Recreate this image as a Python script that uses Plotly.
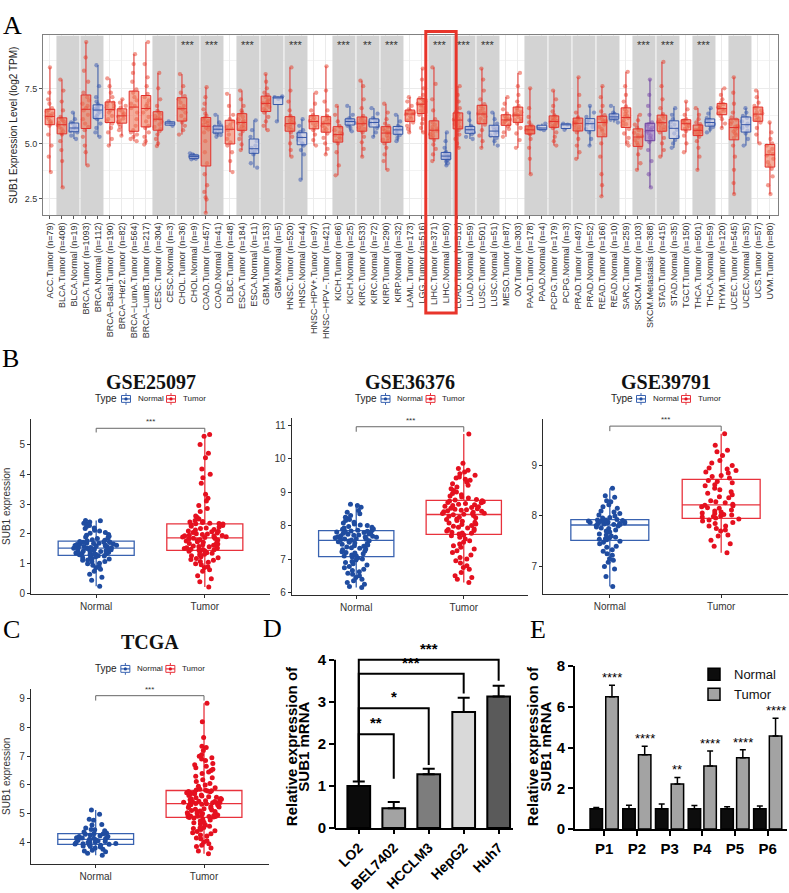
import plotly.graph_objects as go

W, H = 789, 893
SANS = "Liberation Sans, Arial, sans-serif"
SERIF = "Liberation Serif, Times New Roman, serif"


def fx(px):
    return px / W


def fy(py):
    return 1 - py / H


# ======================= DATA =======================
# ---- Panel A: pan-cancer SUB1 expression (log2 TPM) ----
a_types = ["ACC", "BLCA", "BLCA", "BRCA", "BRCA", "BRCA−Basal", "BRCA−Her2", "BRCA−LumA", "BRCA−LumB",
           "CESC", "CESC", "CHOL", "CHOL", "COAD", "COAD", "DLBC", "ESCA", "ESCA", "GBM", "GBM",
           "HNSC", "HNSC", "HNSC−HPV+", "HNSC−HPV−", "KICH", "KICH", "KIRC", "KIRC", "KIRP", "KIRP",
           "LAML", "LGG", "LIHC", "LIHC", "LUAD", "LUAD", "LUSC", "LUSC", "MESO", "OV",
           "PAAD", "PAAD", "PCPG", "PCPG", "PRAD", "PRAD", "READ", "READ", "SARC", "SKCM", "SKCM",
           "STAD", "STAD", "TGCT", "THCA", "THCA", "THYM", "UCEC", "UCEC", "UCS", "UVM"]
a_groups = ["Tumor", "Tumor", "Normal", "Tumor", "Normal", "Tumor", "Tumor", "Tumor", "Tumor",
            "Tumor", "Normal", "Tumor", "Normal", "Tumor", "Normal", "Tumor", "Tumor", "Normal", "Tumor", "Normal",
            "Tumor", "Normal", "Tumor", "Tumor", "Tumor", "Normal", "Tumor", "Normal", "Tumor", "Normal",
            "Tumor", "Tumor", "Tumor", "Normal", "Tumor", "Normal", "Tumor", "Normal", "Tumor", "Tumor",
            "Tumor", "Normal", "Tumor", "Normal", "Tumor", "Normal", "Tumor", "Normal", "Tumor", "Tumor", "Metastasis",
            "Tumor", "Normal", "Tumor", "Tumor", "Normal", "Tumor", "Tumor", "Normal", "Tumor", "Tumor"]
a_n = [79, 408, 19, 1093, 112, 190, 82, 564, 217,
       304, 3, 36, 9, 457, 41, 48, 184, 11, 153, 5,
       520, 44, 97, 421, 66, 25, 533, 72, 290, 32,
       173, 516, 371, 50, 515, 59, 501, 51, 87, 303,
       178, 4, 179, 3, 497, 52, 166, 10, 259, 103, 368,
       415, 35, 150, 501, 59, 120, 545, 35, 57, 80]
a_values = [
    "8.45 7.3 7.0 6.8 6.6 6.5 6.45 6.35 6.3 6.25 6.2 6.1 6.0 5.95 5.9 5.8 5.4 4.9 4.4 3.7",
    "7.9 7.4 6.9 6.5 6.2 6.12 6.05 6.0 5.93 5.87 5.83 5.75 5.65 5.55 5.47 5.4 5.1 4.7 4.2 3.0",
    "6.4 6.1 5.95 5.9 5.8 5.72 5.68 5.62 5.56 5.5 5.35 5.2",
    "9.6 8.9 8.3 7.8 7.3 7.1 6.95 6.8 6.7 6.6 6.5 6.3 6.1 5.9 5.75 5.6 5.3 4.9 4.6 4.0",
    "8.55 7.6 7.1 6.9 6.78 6.72 6.65 6.6 6.56 6.53 6.5 6.42 6.33 6.25 6.17 6.1 5.9 5.7 5.5 5.3",
    "7.95 7.6 7.3 7.1 6.92 6.85 6.78 6.7 6.63 6.57 6.5 6.4 6.25 6.1 6.0 5.9 5.7 5.5 5.2 4.9",
    "7.0 6.85 6.7 6.62 6.52 6.43 6.35 6.28 6.22 6.13 6.05 5.96 5.88 5.75 5.6 5.35",
    "9.05 8.6 8.2 7.8 7.45 7.3 7.1 6.95 6.8 6.7 6.6 6.4 6.1 5.8 5.6 5.5 5.4 5.3 5.2 5.1",
    "9.6 8.6 8.0 7.6 7.25 7.1 6.95 6.8 6.7 6.62 6.55 6.4 6.2 6.0 5.8 5.7 5.5 5.3 5.1 4.95",
    "8.2 7.5 7.0 6.7 6.48 6.4 6.32 6.25 6.18 6.12 6.08 5.98 5.86 5.75 5.65 5.55 5.4 5.2 5.0 4.88",
    "6.0 5.92 5.8",
    "8.15 7.6 7.3 7.15 7.0 6.85 6.7 6.6 6.55 6.4 6.25 6.08 5.95 5.8 5.6 5.4",
    "4.55 4.5 4.46 4.43 4.41 4.38 4.33 4.3 4.28",
    "7.55 7.1 6.8 6.55 6.35 6.25 6.15 6.08 6.02 5.97 5.92 5.85 5.78 5.7 5.63 5.5 5.1 4.6 4.1 3.6 3.1 2.8 2.55 2.45 1.85",
    "6.3 5.95 5.82 5.76 5.7 5.66 5.63 5.56 5.5 5.45 5.38 5.3",
    "7.25 6.7 6.3 6.1 6.0 5.85 5.75 5.68 5.6 5.4 5.2 5.05 4.9 4.6 4.2 3.7",
    "7.4 7.0 6.7 6.5 6.4 6.3 6.2 6.1 6.02 5.97 5.93 5.85 5.77 5.7 5.64 5.55 5.4 5.2 4.95 4.7",
    "6.05 5.6 5.3 5.1 4.9 4.8 4.72 4.65 4.6 4.5 4.1 3.9",
    "8.15 7.8 7.5 7.3 7.2 7.1 7.0 6.93 6.87 6.83 6.8 6.72 6.65 6.57 6.5 6.4 6.2 6.0 5.8 5.6",
    "7.14 7.1 7.08 7.02 6.0",
    "8.45 7.4 6.9 6.5 6.25 6.18 6.1 6.02 5.96 5.92 5.88 5.82 5.75 5.68 5.61 5.5 5.3 5.0 4.7 4.4",
    "6.1 5.8 5.6 5.52 5.45 5.38 5.33 5.29 5.25 5.15 5.05 4.98 4.9 4.7 4.5 3.35",
    "7.3 6.8 6.5 6.3 6.22 6.15 6.08 6.02 5.97 5.9 5.82 5.72 5.6 5.4 5.15 4.9",
    "8.5 7.4 6.9 6.5 6.25 6.18 6.1 6.02 5.96 5.92 5.87 5.8 5.72 5.64 5.57 5.45 5.25 5.0 4.75 4.5",
    "6.7 6.3 6.0 5.8 5.72 5.6 5.5 5.43 5.37 5.28 5.2 5.12 5.0 4.6 4.0 3.55",
    "6.7 6.3 6.15 6.08 6.04 6.01 5.98 5.93 5.87 5.8 5.7 5.55",
    "7.85 7.6 7.0 6.6 6.25 6.15 6.08 6.0 5.95 5.91 5.88 5.8 5.72 5.66 5.61 5.5 5.3 5.05 4.75 4.4",
    "6.6 6.35 6.15 6.08 6.02 5.97 5.93 5.86 5.79 5.7 5.5 5.3",
    "6.8 6.4 6.1 5.9 5.8 5.72 5.65 5.58 5.52 5.49 5.45 5.35 5.25 5.17 5.11 5.0 4.8 4.5 4.2 3.8",
    "6.3 6.0 5.8 5.74 5.68 5.63 5.6 5.52 5.45 5.38 5.25 5.1",
    "7.1 6.9 6.7 6.55 6.48 6.42 6.38 6.35 6.32 6.22 6.12 6.05 5.95 5.8 5.65 5.5",
    "8.4 7.9 7.5 7.2 7.06 7.0 6.95 6.9 6.85 6.8 6.76 6.7 6.6 6.5 6.42 6.3 6.1 5.9 5.7 5.5",
    "8.45 7.7 7.0 6.5 6.1 5.95 5.85 5.75 5.68 5.62 5.58 5.5 5.42 5.34 5.27 5.15 4.95 4.75 4.5 4.2",
    "5.5 5.1 4.8 4.62 4.56 4.5 4.46 4.44 4.41 4.37 4.33 4.3 4.25 4.18 4.1 4.0",
    "7.6 7.2 6.9 6.6 6.42 6.35 6.28 6.2 6.13 6.08 6.04 5.96 5.88 5.8 5.72 5.6 5.4 5.2 5.0 4.8",
    "6.4 6.05 5.8 5.74 5.68 5.64 5.6 5.55 5.5 5.42 5.3 5.2",
    "8.4 7.9 7.4 7.0 6.78 6.68 6.58 6.48 6.4 6.35 6.32 6.22 6.12 6.02 5.94 5.85 5.6 5.35 5.1 4.8",
    "6.4 6.1 5.9 5.75 5.68 5.6 5.52 5.44 5.36 5.25 5.1 4.9",
    "7.1 6.8 6.55 6.35 6.25 6.18 6.12 6.08 6.05 5.98 5.92 5.86 5.78 5.65 5.5 5.3",
    "8.2 7.6 7.2 6.9 6.7 6.6 6.5 6.42 6.35 6.3 6.27 6.2 6.12 6.06 6.01 5.9 5.7 5.45 5.15 4.8",
    "7.5 6.6 6.2 5.95 5.82 5.77 5.72 5.68 5.65 5.63 5.6 5.56 5.52 5.48 5.46 5.4 5.2 4.8 4.3 3.6",
    "5.9 5.75 5.65 5.6",
    "7.4 7.0 6.7 6.45 6.28 6.22 6.15 6.1 6.05 6.01 5.98 5.92 5.86 5.8 5.76 5.7 5.5 5.3 5.1 4.9",
    "5.9 5.85 5.62",
    "8.0 7.2 6.7 6.4 6.18 6.12 6.06 6.0 5.96 5.93 5.9 5.84 5.76 5.69 5.63 5.5 5.2 4.9 4.6 4.3",
    "6.7 6.4 6.2 6.05 5.98 5.92 5.87 5.75 5.65 5.5 5.2 4.9",
    "7.6 7.1 6.7 6.45 6.28 6.22 6.15 6.08 6.03 6.0 5.95 5.85 5.75 5.65 5.57 5.4 5.0 4.4 3.6 3.1 2.6",
    "6.7 6.4 6.34 6.28 6.22 6.19 6.15 6.1 6.07 5.95",
    "8.25 7.6 7.2 6.9 6.68 6.55 6.45 6.35 6.26 6.2 6.15 6.05 5.95 5.87 5.8 5.65 5.45 5.25 5.05 4.9",
    "6.3 6.05 5.85 5.72 5.6 5.48 5.38 5.32 5.26 5.15 5.03 4.93 4.8 4.5 4.1 3.8",
    "7.9 7.2 6.7 6.3 5.95 5.88 5.8 5.72 5.65 5.6 5.55 5.45 5.35 5.26 5.19 5.05 4.7 4.2 3.6 3.0",
    "8.7 7.6 7.0 6.6 6.33 6.24 6.15 6.07 6.0 5.96 5.92 5.84 5.75 5.68 5.61 5.5 5.25 5.0 4.7 4.4",
    "6.6 6.3 6.1 5.95 5.85 5.75 5.62 5.45 5.3 5.15 5.0 4.8",
    "6.9 6.55 6.3 6.1 6.05 6.0 5.95 5.91 5.88 5.8 5.73 5.67 5.55 5.35 5.0 4.6",
    "6.6 6.3 6.1 5.95 5.87 5.8 5.73 5.68 5.64 5.61 5.58 5.53 5.48 5.44 5.41 5.3 5.1 4.8 4.4 3.8",
    "6.6 6.35 6.15 6.07 6.02 5.97 5.93 5.88 5.82 5.75 5.65 5.5",
    "7.5 7.2 7.0 6.85 6.78 6.7 6.64 6.6 6.56 6.48 6.41 6.36 6.25 6.1 5.9 5.7",
    "8.0 7.3 6.8 6.4 6.18 6.08 5.98 5.88 5.8 5.76 5.72 5.63 5.54 5.45 5.38 5.25 4.9 4.4 3.8 3.2 2.7",
    "6.6 6.4 6.25 6.15 6.0 5.9 5.8 5.7 5.58 5.45 5.2 4.9",
    "7.4 7.1 6.85 6.7 6.6 6.5 6.42 6.36 6.3 6.2 6.12 6.06 5.95 5.7 5.4 5.0",
    "5.95 5.5 5.2 5.0 4.9 4.75 4.62 4.52 4.45 4.3 4.15 4.0 3.85 3.5 3.1 2.7",
]
a_sig = {"CHOL": "***", "COAD": "***", "ESCA": "***", "HNSC": "***", "KICH": "***", "KIRC": "**",
         "KIRP": "***", "LIHC": "***", "LUAD": "***", "LUSC": "***", "SKCM": "***", "STAD": "***",
         "THCA": "***"}
a_sig_y = 9.45
a_highlight = "LIHC"

# ---- Panel B / C: GEO & TCGA cohorts (SUB1 expression) ----
b_titles = ["GSE25097", "GSE36376", "GSE39791"]
gse25097_normal = ("2.45 2.4 2.33 2.25 2.18 2.1 2.02 1.96 1.9 1.85 1.81 1.77 "
                   "1.75 1.73 1.71 1.69 1.67 1.65 1.63 1.61 1.59 1.57 1.55 1.53 "
                   "1.52 1.5 1.48 1.46 1.44 1.42 1.4 1.38 1.35 1.33 1.31 1.29 "
                   "1.27 1.24 1.2 1.16 1.12 1.07 1.02 0.95 0.87 0.75 0.55 0.25 "
                   "2.44 2.36 2.28 2.2 2.12 2.05 1.98 1.92 1.87 1.79 "
                   "1.74 1.72 1.7 1.68 1.66 1.62 1.6 1.58 1.56 1.54 "
                   "1.51 1.49 1.47 1.43 1.41 1.39 1.36 1.34 1.32 1.3 "
                   "1.26 1.22 1.18 1.13 1.08 1.0 0.92 0.82 0.65 0.45")
gse25097_tumor = ("5.33 5.27 5.0 4.7 4.55 4.18 4.0 3.88 3.7 3.33 3.1 2.85 2.6 2.42 "
                  "2.33 2.28 2.23 2.18 2.13 2.09 2.05 2.01 1.98 1.95 1.93 1.91 1.89 1.88 "
                  "1.86 1.83 1.8 1.76 1.72 1.68 1.64 1.6 1.57 1.54 1.51 1.49 1.47 1.46 "
                  "1.44 1.4 1.35 1.3 1.24 1.18 1.12 1.05 0.97 0.88 0.75 0.6 0.4 0.22 "
                  "3.2 2.95 2.75 2.55 2.5 2.45 2.4 2.38 2.36 2.35 2.34 "
                  "2.31 2.26 2.2 2.15 2.1 2.07 2.03 2.0 1.96 1.94 1.9 "
                  "1.85 1.81 1.78 1.74 1.7 1.66 1.62 1.58 1.55 1.52 1.48 "
                  "1.42 1.37 1.32 1.27 1.2 1.14 1.08 1.0 0.9 0.8 0.5")
gse36376_normal = ("8.64 8.6 8.45 8.4 8.3 8.22 8.15 8.08 8.02 7.97 7.93 7.89 7.86 "
                   "7.84 7.82 7.8 7.77 7.74 7.71 7.68 7.66 7.64 7.62 7.6 7.58 7.57 "
                   "7.55 7.52 7.48 7.44 7.4 7.36 7.32 7.28 7.24 7.2 7.16 7.12 7.09 "
                   "7.06 7.0 6.93 6.86 6.78 6.7 6.62 6.55 6.45 6.35 6.25 6.18 6.15 "
                   "8.55 8.35 8.25 8.18 8.1 8.05 8.0 7.95 7.9 7.87 "
                   "7.83 7.81 7.79 7.75 7.72 7.7 7.67 7.65 7.61 7.59 "
                   "7.54 7.5 7.46 7.42 7.38 7.34 7.3 7.22 7.18 7.1 "
                   "7.03 6.97 6.9 6.82 6.74 6.66 6.58 6.5 6.4 6.3")
gse36376_tumor = ("10.73 9.86 9.7 9.6 9.5 9.45 9.38 9.3 9.2 9.1 9.0 8.92 8.85 8.78 "
                  "8.74 8.71 8.68 8.64 8.6 8.56 8.52 8.49 8.46 8.43 8.4 8.37 8.35 8.34 "
                  "8.32 8.28 8.23 8.18 8.13 8.08 8.03 7.98 7.93 7.88 7.84 7.8 7.77 7.75 "
                  "7.72 7.65 7.55 7.45 7.35 7.25 7.12 7.0 6.88 6.75 6.6 6.45 6.4 6.3 "
                  "9.65 9.55 9.42 9.35 9.25 9.15 9.05 8.96 8.88 8.82 8.76 "
                  "8.73 8.69 8.66 8.62 8.58 8.54 8.5 8.47 8.44 8.41 8.36 "
                  "8.3 8.25 8.2 8.15 8.1 8.05 8.0 7.95 7.9 7.85 7.78 "
                  "7.7 7.6 7.5 7.4 7.3 7.2 7.05 6.95 6.8 6.7 6.5")
gse39791_normal = ("8.55 8.37 8.3 8.22 8.15 8.1 8.05 8.0 7.96 7.93 "
                   "7.92 7.91 7.9 7.89 7.88 7.87 7.86 7.85 7.84 7.83 "
                   "7.81 7.78 7.75 7.72 7.68 7.64 7.6 7.57 7.55 7.53 "
                   "7.5 7.45 7.38 7.3 7.22 7.15 7.08 6.95 6.8 6.6 "
                   "8.4 8.28 8.18 8.08 8.02 7.97 7.92 7.9 7.88 7.86 7.85 7.83 "
                   "7.8 7.76 7.7 7.62 7.58 7.54 7.48 7.4 7.33 7.25 7.12 7.0")
gse39791_tumor = ("9.63 9.3 9.27 9.1 9.0 8.93 8.9 8.85 8.8 8.75 "
                  "8.7 8.66 8.62 8.55 8.48 8.42 8.36 8.3 8.26 8.23 "
                  "8.21 8.18 8.15 8.12 8.08 8.05 8.02 8.0 7.98 7.96 "
                  "7.94 7.9 7.85 7.8 7.75 7.7 7.62 7.52 7.4 7.27 "
                  "9.4 9.2 9.05 8.95 8.87 8.78 8.68 8.6 8.52 8.45 8.38 8.28 "
                  "8.2 8.16 8.1 8.06 8.03 7.99 7.92 7.87 7.8 7.72 7.6 7.45")
tcga_normal = ("5.13 4.98 4.8 4.77 4.62 4.5 4.44 4.4 4.36 4.32 "
               "4.3 4.28 4.25 4.23 4.2 4.18 4.16 4.14 4.12 4.11 "
               "4.09 4.07 4.05 4.03 4.01 3.99 3.97 3.96 3.95 3.94 "
               "3.92 3.9 3.87 3.84 3.8 3.76 3.72 3.67 3.62 3.55 "
               "4.6 4.45 4.3 4.2 4.15 4.06 4.0 3.93 3.85 3.7")
tcga_tumor = ("8.85 8.2 7.65 7.35 7.2 7.05 6.9 6.75 6.6 6.45 6.3 6.18 6.05 5.95 5.85 "
              "5.8 5.77 5.74 5.71 5.67 5.63 5.59 5.55 5.51 5.48 5.45 5.42 5.4 5.38 5.36 "
              "5.34 5.31 5.27 5.23 5.19 5.15 5.11 5.07 5.03 5.0 4.97 4.94 4.92 4.9 4.89 "
              "4.86 4.8 4.74 4.68 4.6 4.52 4.45 4.38 4.3 4.22 4.12 4.0 3.9 3.8 3.6 "
              "7.0 6.85 6.7 6.55 6.4 6.25 6.12 6.0 5.9 5.82 5.81 6.5 6.95 7.3 6.65 "
              "5.79 5.76 5.73 5.69 5.65 5.61 5.57 5.53 5.5 5.46 5.43 5.41 5.39 5.37 5.35 "
              "5.33 5.29 5.25 5.21 5.17 5.13 5.09 5.05 5.01 4.98 4.95 4.93 4.91 4.9 4.88 "
              "4.85 4.78 4.7 4.64 4.56 4.48 4.4 4.33 4.25 4.15 4.05 3.95 3.85 3.7 4.5")
bc_bracket_y = [5.54, 10.95, 9.78, 9.11]
bc_bracket_drop = [5.40, 10.80, 9.68, 8.94]
bc_sig = ["***", "***", "***", "***"]
legend_groups = ["Normal", "Tumor"]

# ---- Panel D: qPCR in cell lines ----
d_lines = ["LO2", "BEL7402", "HCCLM3", "HepG2", "Huh7"]
d_mean = [1.0, 0.47, 1.28, 2.76, 3.13]
d_err = [0.11, 0.15, 0.13, 0.34, 0.25]
d_colors = ["#0b0b0b", "#a3a3a3", "#7d7d7d", "#d9d9d9", "#5a5a5a"]
d_cmp_target = ["BEL7402", "HCCLM3", "HepG2", "Huh7"]
d_cmp_stars = ["**", "*", "***", "***"]
d_cmp_height = [2.23, 2.85, 3.67, 4.0]
d_cmp_leg = [1.17, 1.5, 3.2, 3.5]

# ---- Panel E: qPCR in paired patient samples ----
e_patients = ["P1", "P2", "P3", "P4", "P5", "P6"]
e_normal = [1.0, 1.0, 1.0, 1.0, 1.0, 1.0]
e_normal_err = [0.06, 0.17, 0.23, 0.16, 0.1, 0.13]
e_tumor = [6.5, 3.65, 2.22, 3.1, 3.5, 4.57]
e_tumor_err = [0.57, 0.42, 0.32, 0.74, 0.4, 0.88]
e_sig = ["****", "****", "**", "****", "****", "****"]

# ======================= FIGURE =======================
fig = go.Figure()
shapes, annotations = [], []
layout = dict(width=W, height=H, margin=dict(l=0, r=0, t=0, b=0), paper_bgcolor="white",
              plot_bgcolor="white", boxmode="overlay", hovermode=False,
              font=dict(family=SANS, color="#222"))

# ---------------- Panel A ----------------
A_XDOM = [fx(43), fx(778)]
A_YDOM = [fy(210), fy(27)]
A_XR = [-0.58, 60.67]
A_YR = [1.75, 9.9]
a_labels = [f"{t}.{g} (n={n})" for t, g, n in zip(a_types, a_groups, a_n)]
a_vals = [[float(v) for v in s.split()] for s in a_values]

# grey bands (as bars, so they sit above the grid) for cancer types with paired groups
runs = []
i = 0
while i < len(a_types):
    j = i
    while j + 1 < len(a_types) and a_types[j + 1] == a_types[i]:
        j += 1
    if j > i:
        runs.append((i, j))
    i = j + 1
fig.add_trace(go.Bar(x=[a_labels[i] for i, j in runs], y=[A_YR[1] - A_YR[0]] * len(runs),
                     base=[A_YR[0]] * len(runs), width=[j - i + 0.92 for i, j in runs],
                     offset=[-0.46] * len(runs), marker=dict(color="#D3D3D3", line=dict(width=0)),
                     xaxis="x", yaxis="y", showlegend=False, hoverinfo="skip"))
for i, j in runs:
    t = a_types[i]
    if t in a_sig:
        annotations.append(dict(x=(i + j) / 2, y=a_sig_y, xref="x", yref="y", text=a_sig[t],
                                showarrow=False, font=dict(size=11, color="#333")))

A_STYLE = {
    "Tumor": dict(pt="rgba(232,56,34,0.5)", line="#E3302A", fill="rgba(238,118,88,0.6)"),
    "Normal": dict(pt="rgba(52,84,176,0.5)", line="#3556A8", fill="rgba(208,212,236,0.6)"),
    "Metastasis": dict(pt="rgba(122,74,170,0.55)", line="#6A3E9E", fill="rgba(158,118,198,0.55)"),
}
for cls, st in A_STYLE.items():
    xs, ys = [], []
    for lab, g, v in zip(a_labels, a_groups, a_vals):
        if g == cls:
            xs.extend([lab] * len(v))
            ys.extend(v)
    fig.add_trace(go.Box(x=xs, y=ys, xaxis="x", yaxis="y", boxpoints="all", jitter=0.9, pointpos=0,
                         width=0.8, marker=dict(size=4.3, color=st["pt"]), line=dict(width=0),
                         fillcolor="rgba(0,0,0,0)", whiskerwidth=0, showlegend=False, hoverinfo="skip"))
    fig.add_trace(go.Box(x=xs, y=ys, xaxis="x", yaxis="y", boxpoints=False, width=0.8,
                         line=dict(color=st["line"], width=1), fillcolor=st["fill"], whiskerwidth=0,
                         showlegend=False, hoverinfo="skip"))

layout["xaxis"] = dict(domain=A_XDOM, anchor="y", type="category", categoryorder="array",
                       categoryarray=a_labels, range=A_XR, tickangle=-90,
                       tickfont=dict(size=9, color="#333"), ticks="outside", ticklen=3, tickcolor="#555",
                       showgrid=True, gridcolor="#EBEBEB", showline=True, mirror=True,
                       linecolor="#808080", linewidth=1, zeroline=False)
layout["yaxis"] = dict(domain=A_YDOM, anchor="x", range=A_YR, tick0=2.5, dtick=2.5, tickformat=".1f",
                       tickfont=dict(size=9, color="#333"), ticks="outside", ticklen=3, tickcolor="#555",
                       showgrid=True, gridcolor="#EBEBEB",
                       minor=dict(tick0=0, dtick=1.25, showgrid=True, gridcolor="#F3F3F3"),
                       showline=True, mirror=True, linecolor="#808080", linewidth=1, zeroline=False,
                       title=dict(text="SUB1 Expression Level (log2 TPM)", font=dict(size=10, color="#222"),
                                  standoff=5))


def a_xpaper(v):
    return A_XDOM[0] + (v - A_XR[0]) / (A_XR[1] - A_XR[0]) * (A_XDOM[1] - A_XDOM[0])


hl = [k for k, t in enumerate(a_types) if t == a_highlight]
shapes.append(dict(type="rect", xref="paper", yref="paper", x0=a_xpaper(hl[0] - 0.68),
                   x1=a_xpaper(hl[-1] + 0.85), y0=fy(310), y1=fy(23),
                   line=dict(color="#E8352B", width=3), fillcolor="rgba(0,0,0,0)"))

# ---------------- Panels B & C ----------------
BLUE_LINE, BLUE_PT = "#3862B0", "#1F4CA0"
RED_LINE, RED_PT = "#E8323C", "#E5101F"
bc_specs = [
    dict(ax="2", xdom=[fx(31), fx(270)], ydom=[fy(596), fy(418)], yr=[0, 5.85], tv=[0, 1, 2, 3, 4, 5],
         normal=gse25097_normal, tumor=gse25097_tumor, title=b_titles[0], ytitle=True, ty=380, ly=397.5),
    dict(ax="3", xdom=[fx(291.7), fx(528.3)], ydom=[fy(597.3), fy(417.3)], yr=[5.93, 11.2],
         tv=[6, 7, 8, 9, 10, 11], normal=gse36376_normal, tumor=gse36376_tumor, title=b_titles[1],
         ytitle=False, ty=380, ly=397.5),
    dict(ax="4", xdom=[fx(543), fx(788)], ydom=[fy(596), fy(418)], yr=[6.46, 9.92], tv=[7, 8, 9],
         normal=gse39791_normal, tumor=gse39791_tumor, title=b_titles[2], ytitle=False, ty=380, ly=397.5),
    dict(ax="5", xdom=[fx(30.7), fx(269)], ydom=[fy(871.7), fy(692.7)], yr=[3.24, 9.36],
         tv=[4, 5, 6, 7, 8, 9], normal=tcga_normal, tumor=tcga_tumor, title="TCGA", ytitle=True,
         ty=645, ly=672.7),
]


def gg_legend(cx, cy):
    """ggplot-style compact legend: 'Type' + box keys (cx, cy in pixels)."""
    annotations.append(dict(x=fx(cx - 41), y=fy(cy), xref="paper", yref="paper", text="Type",
                            showarrow=False, xanchor="center", yanchor="middle",
                            font=dict(size=10, color="#222")))
    for dx_icon, dx_text, lab, lc, pc in [(-21.5, -12, legend_groups[0], BLUE_LINE, BLUE_PT),
                                          (23.5, 33, legend_groups[1], RED_LINE, RED_PT)]:
        ix = cx + dx_icon
        shapes.append(dict(type="line", xref="paper", yref="paper", x0=fx(ix), x1=fx(ix), y0=fy(cy - 6),
                           y1=fy(cy + 6), line=dict(color=lc, width=1)))
        shapes.append(dict(type="rect", xref="paper", yref="paper", x0=fx(ix - 4.5), x1=fx(ix + 4.5),
                           y0=fy(cy + 3.5), y1=fy(cy - 3.5), line=dict(color=lc, width=1),
                           fillcolor="white"))
        shapes.append(dict(type="line", xref="paper", yref="paper", x0=fx(ix - 4.5), x1=fx(ix + 4.5),
                           y0=fy(cy), y1=fy(cy), line=dict(color=lc, width=1.2)))
        shapes.append(dict(type="circle", xref="paper", yref="paper", x0=fx(ix - 1.6), x1=fx(ix + 1.6),
                           y0=fy(cy + 1.6), y1=fy(cy - 1.6), line=dict(width=0), fillcolor=pc))
        annotations.append(dict(x=fx(cx + dx_text), y=fy(cy), xref="paper", yref="paper", text=lab,
                                showarrow=False, xanchor="left", yanchor="middle",
                                font=dict(size=8, color="#222")))


for k, sp in enumerate(bc_specs):
    ax = sp["ax"]
    groups = [("Normal", sp["normal"], BLUE_LINE, BLUE_PT), ("Tumor", sp["tumor"], RED_LINE, RED_PT)]
    for grp, s, lc, pc in groups:
        y = [float(v) for v in s.split()]
        fig.add_trace(go.Box(x=[grp] * len(y), y=y, name=grp, xaxis="x" + ax, yaxis="y" + ax,
                             boxpoints=False, width=0.7, line=dict(color=lc, width=1.3),
                             fillcolor="rgba(255,255,255,0)", whiskerwidth=0, showlegend=False,
                             hoverinfo="skip"))
    for grp, s, lc, pc in groups:
        y = [float(v) for v in s.split()]
        fig.add_trace(go.Box(x=[grp] * len(y), y=y, name=grp, xaxis="x" + ax, yaxis="y" + ax,
                             boxpoints="all", jitter=0.6, pointpos=0, width=0.7,
                             marker=dict(size=5, color=pc), line=dict(width=0),
                             fillcolor="rgba(0,0,0,0)", whiskerwidth=0, showlegend=False, hoverinfo="skip"))
    fig.add_trace(go.Scatter(x=["Normal", "Normal", "Tumor", "Tumor"],
                             y=[bc_bracket_drop[k], bc_bracket_y[k], bc_bracket_y[k], bc_bracket_drop[k]],
                             mode="lines", line=dict(color="#666", width=1), xaxis="x" + ax, yaxis="y" + ax,
                             showlegend=False, hoverinfo="skip"))
    annotations.append(dict(x=0.5, y=bc_bracket_y[k], xref="x" + ax, yref="y" + ax, text=bc_sig[k],
                            yanchor="bottom", showarrow=False, font=dict(size=8, color="#333")))
    layout["xaxis" + ax] = dict(domain=sp["xdom"], anchor="y" + ax, type="category", categoryorder="array",
                                categoryarray=["Normal", "Tumor"], range=[-0.6, 1.6], showline=True,
                                linecolor="#2b2b2b", linewidth=1, ticks="outside", ticklen=3,
                                tickcolor="#2b2b2b", tickfont=dict(size=10, color="#333"),
                                showgrid=False, zeroline=False)
    yax = dict(domain=sp["ydom"], anchor="x" + ax, range=sp["yr"], tickvals=sp["tv"], showline=True,
               linecolor="#2b2b2b", linewidth=1, ticks="outside", ticklen=3, tickcolor="#2b2b2b",
               tickfont=dict(size=10, color="#333"), showgrid=False, zeroline=False)
    if sp["ytitle"]:
        yax["title"] = dict(text="SUB1 expression", font=dict(size=10, color="#333"), standoff=6)
    layout["yaxis" + ax] = yax
    cx_px = (sp["xdom"][0] + sp["xdom"][1]) / 2 * W
    gg_legend(cx_px - 3, sp["ly"])
    annotations.append(dict(x=cx_px / W, y=fy(sp["ty"]), xref="paper", yref="paper", text=sp["title"],
                            showarrow=False, xanchor="center", yanchor="middle",
                            font=dict(family=SERIF, size=20, color="#111", weight="bold")))

# ---------------- Panel D ----------------
fig.add_trace(go.Bar(x=d_lines, y=d_mean, xaxis="x6", yaxis="y6", width=0.65,
                     marker=dict(color=d_colors, line=dict(color="black", width=2)),
                     error_y=dict(type="data", array=d_err, arrayminus=[0] * len(d_err), symmetric=False,
                                  color="black", thickness=2, width=6),
                     showlegend=False, hoverinfo="skip"))
lo2_top = d_mean[0] + d_err[0]
for tgt, st, h, leg in zip(d_cmp_target, d_cmp_stars, d_cmp_height, d_cmp_leg):
    fig.add_trace(go.Scatter(x=[d_lines[0], d_lines[0], tgt, tgt], y=[lo2_top, h, h, leg], mode="lines",
                             line=dict(color="black", width=2), xaxis="x6", yaxis="y6",
                             showlegend=False, hoverinfo="skip"))
    annotations.append(dict(x=d_lines.index(tgt) / 2, y=h, xref="x6", yref="y6", text=st, yanchor="bottom",
                            showarrow=False, yshift=1, font=dict(size=15, color="black", weight="bold")))
layout["xaxis6"] = dict(domain=[fx(335), fx(513)], anchor="y6", type="category", categoryorder="array",
                        categoryarray=d_lines, range=[-0.68, 4.41], showline=True, linecolor="black",
                        linewidth=2, ticks="outside", ticklen=4, tickwidth=2, tickcolor="black",
                        tickangle=-45, tickfont=dict(size=14, color="black", weight="bold"),
                        showgrid=False, zeroline=False)
layout["yaxis6"] = dict(domain=[fy(835), fy(835 - 4.45 * 42.9)], anchor="x6", range=[0, 4.45],
                        tickvals=[0, 1, 2, 3, 4], showline=False, ticks="outside", ticklen=5, tickwidth=2,
                        tickcolor="black", tickfont=dict(size=15, color="black", weight="bold"),
                        showgrid=False, zeroline=False)
shapes.append(dict(type="line", xref="paper", yref="paper", x0=fx(335), x1=fx(335), y0=fy(836),
                   y1=fy(835 - 4 * 42.9), line=dict(color="black", width=2)))

# ---------------- Panel E ----------------
fig.add_trace(go.Bar(x=e_patients, y=e_normal, name="Normal", xaxis="x7", yaxis="y7", width=0.38, offset=-0.43,
                     marker=dict(color="#0d0d0d", line=dict(color="black", width=1.5)),
                     error_y=dict(type="data", array=e_normal_err, arrayminus=[0] * 6, symmetric=False,
                                  color="black", thickness=1.5, width=3),
                     legend="legend", hoverinfo="skip"))
fig.add_trace(go.Bar(x=e_patients, y=e_tumor, name="Tumor", xaxis="x7", yaxis="y7", width=0.38, offset=0.05,
                     marker=dict(color="#a3a3a3", line=dict(color="black", width=1.5)),
                     error_y=dict(type="data", array=e_tumor_err, arrayminus=[0] * 6, symmetric=False,
                                  color="black", thickness=1.5, width=3),
                     legend="legend", hoverinfo="skip"))
for k, s in enumerate(e_sig):
    annotations.append(dict(x=k + 0.24, y=e_tumor[k] + e_tumor_err[k], xref="x7", yref="y7", text=s,
                            yanchor="bottom", showarrow=False, yshift=-2,
                            font=dict(size=13, color="black")))
layout["xaxis7"] = dict(domain=[fx(575), fx(787)], anchor="y7", type="category", categoryorder="array",
                        categoryarray=e_patients, range=[-0.89, 5.59], showline=True, linecolor="black",
                        linewidth=2, ticks="outside", ticklen=5, tickwidth=2, tickcolor="black",
                        tickfont=dict(size=15, color="black", weight="bold"), showgrid=False, zeroline=False)
layout["yaxis7"] = dict(domain=[fy(836), fy(670)], anchor="x7", range=[0, 8], tickvals=[0, 2, 4, 6, 8],
                        showline=True, linecolor="black", linewidth=2, ticks="outside", ticklen=5,
                        tickwidth=2, tickcolor="black", tickfont=dict(size=15, color="black", weight="bold"),
                        showgrid=False, zeroline=False)
layout["legend"] = dict(orientation="v", x=fx(782), y=fy(663), xanchor="right", yanchor="top",
                        bgcolor="rgba(0,0,0,0)", font=dict(size=13, color="#111"), itemwidth=30,
                        tracegroupgap=0)

# y titles for D and E (two lines each)
for x1, x2 in [(291.5, 304.0), (532.5, 546.0)]:
    for xx, txt in [(x1, "Relative expression of"), (x2, "SUB1 mRNA")]:
        annotations.append(dict(x=fx(xx), y=fy(752), xref="paper", yref="paper", text=txt, textangle=-90,
                                showarrow=False, xanchor="center", yanchor="middle",
                                font=dict(size=15, color="black", weight="bold")))

# panel letters
for letter, px_, py_ in [("B", 10, 356), ("C", 11.5, 633), ("D", 272, 632), ("E", 538, 633)]:
    annotations.append(dict(x=fx(px_), y=fy(py_), xref="paper", yref="paper", text=letter, showarrow=False,
                            xanchor="center", yanchor="middle", font=dict(family=SERIF, size=26, color="black")))
annotations.append(dict(x=fx(12), y=1, xref="paper", yref="paper", text="A", showarrow=False,
                        xanchor="center", yanchor="top", font=dict(family=SERIF, size=26, color="black")))

layout["shapes"] = shapes
layout["annotations"] = annotations
fig.update_layout(**layout)
fig.write_html("out.html")
